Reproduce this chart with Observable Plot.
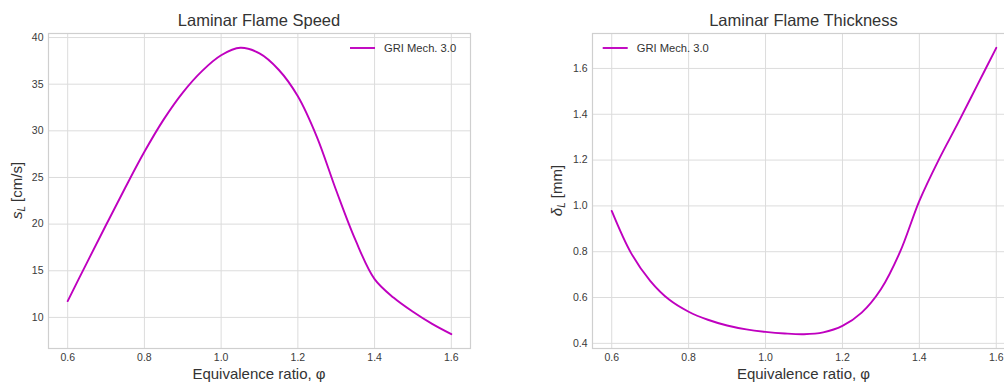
<!DOCTYPE html>
<html><head><meta charset="utf-8">
<script src="https://cdn.jsdelivr.net/npm/d3@7"></script>
<script src="https://cdn.jsdelivr.net/npm/@observablehq/plot@0.6"></script>
<style>
body{margin:0;background:#fff;}
#wrap{position:relative;width:1004px;height:384px;overflow:hidden;background:#fff;}
.panel{position:absolute;top:0;}
</style></head><body><div id="wrap"></div>
<script>
// ---- data ----
const phi = [0.60,0.65,0.70,0.75,0.80,0.85,0.90,0.95,1.00,1.05,1.10,1.15,1.20,1.25,1.30,1.35,1.40,1.45,1.50,1.55,1.60];
const flameSpeed = [11.75,15.85,19.9,23.9,27.75,31.2,34.1,36.4,38.1,38.9,38.3,36.55,33.7,29.3,23.6,18.3,14.1,12.1,10.6,9.3,8.2];
const flameThickness = [0.978,0.795,0.673,0.590,0.538,0.503,0.478,0.461,0.450,0.443,0.440,0.448,0.476,0.534,0.636,0.800,1.022,1.200,1.360,1.525,1.690];
const xTicks = [0.6,0.8,1.0,1.2,1.4,1.6];
const speedTicks = [10,15,20,25,30,35,40];
const thicknessTicks = [0.4,0.6,0.8,1.0,1.2,1.4,1.6];
const seriesName = "GRI Mech. 3.0";
const titles = ["Laminar Flame Speed","Laminar Flame Thickness"];
const xLabel = "Equivalence ratio, φ";

const FONT = '"Liberation Sans", Arial, sans-serif';
const LINE = "#bf00bf";
const pad = ([a,b]) => [a-0.05*(b-a), b+0.05*(b-a)];

function panel({values, yTicks, yFmt, title, yMain, yUnit, left, ml, yLabelX, legend}) {
  const data = phi.map((p,i) => ({phi:p, v:values[i]}));
  const W = 479, H = 384, mt = 33, mb = 36, mr = 9;
  const svg = Plot.plot({
    width: W, height: H, marginLeft: ml, marginRight: mr, marginTop: mt, marginBottom: mb,
    style: {fontFamily: FONT, fontSize: "10.5px", color: "#3a3a3a", background: "#fff"},
    x: {domain: pad(d3.extent(phi))},
    y: {domain: pad(d3.extent(values))},
    marks: [
      Plot.gridX(xTicks, {stroke: "#dcdcdc", strokeOpacity: 1, strokeWidth: 1}),
      Plot.gridY(yTicks, {stroke: "#dcdcdc", strokeOpacity: 1, strokeWidth: 1}),
      Plot.axisX(xTicks, {tickSize: 0, tickPadding: 5, tickFormat: d3.format(".1f"), label: null}),
      Plot.axisY(yTicks, {tickSize: 0, tickPadding: 5, tickFormat: d3.format(yFmt), label: null}),
      Plot.frame({stroke: "#cfcfcf", strokeWidth: 1.2}),
      Plot.line(data, {x: "phi", y: "v", stroke: LINE, strokeWidth: 1.9, curve: "catmull-rom"})
    ]
  });
  const s = d3.select(svg);
  const cx = ml + (W - ml - mr) / 2;
  s.append("text").attr("x", cx).attr("y", 26).attr("text-anchor", "middle")
    .attr("font-size", 16.5).attr("fill", "#333").attr("font-family", FONT).text(title);
  s.append("text").attr("x", cx).attr("y", 379).attr("text-anchor", "middle")
    .attr("font-size", 15).attr("fill", "#333").attr("font-family", FONT).text(xLabel);
  const yl = s.append("text").attr("transform", `translate(${yLabelX},${(mt + H - mb) / 2}) rotate(-90)`)
    .attr("text-anchor", "middle").attr("font-size", 15).attr("fill", "#333").attr("font-family", FONT);
  yl.append("tspan").attr("font-style", "italic").text(yMain);
  yl.append("tspan").attr("font-style", "italic").attr("font-size", 10).attr("dy", 3.5).text("L");
  yl.append("tspan").attr("dy", -3.5).text(" " + yUnit);
  const g = s.append("g");
  g.append("line").attr("x1", legend[0]).attr("x2", legend[0] + 25).attr("y1", 48).attr("y2", 48)
    .attr("stroke", LINE).attr("stroke-width", 1.9);
  g.append("text").attr("x", legend[0] + 34).attr("y", 48).attr("dy", "0.36em").attr("text-anchor", "start")
    .attr("font-size", 11.2).attr("fill", "#333").attr("font-family", FONT).text(seriesName);
  svg.classList.add("panel");
  svg.style.left = left + "px";
  return svg;
}

const wrap = document.getElementById("wrap");
wrap.append(panel({values: flameSpeed, yTicks: speedTicks, yFmt: "d", title: titles[0],
  yMain: "s", yUnit: "[cm/s]", left: 0, ml: 48, yLabelX: 21.5, legend: [350]}));
wrap.append(panel({values: flameThickness, yTicks: thicknessTicks, yFmt: ".1f", title: titles[1],
  yMain: "δ", yUnit: "[mm]", left: 545, ml: 47, yLabelX: 16.5, legend: [57.7]}));
</script></body></html>
